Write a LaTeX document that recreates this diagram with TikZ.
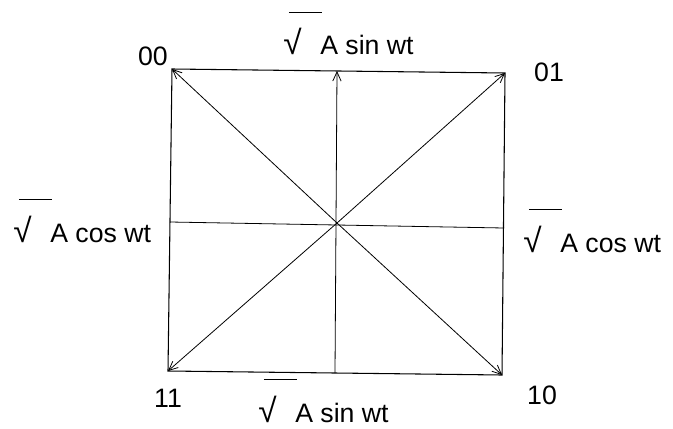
\documentclass[tikz,border=0pt]{standalone}
\usepackage{fontspec}
\setmainfont{Liberation Sans}
\usetikzlibrary{positioning, arrows.meta}

% root sign with a raised bar, set left of the text
\newcommand{\rootlabel}[1]{\llap{\raisebox{31.5pt}{\rule{25pt}{0.7pt}}\hspace{-1.5pt}}%
  \llap{{\fontsize{25}{25}\selectfont √}\hspace{14pt}}#1}

\begin{document}
\begin{tikzpicture}[x=0.75pt, y=-0.75pt,
    corner/.style={font=\fontsize{20}{24}\selectfont, inner sep=0pt},
    sidelabel/.style={font=\fontsize{20}{24}\selectfont, inner sep=0pt, anchor=base west},
    vec/.style={-{Straight Barb[length=2.4mm, width=2.2mm]}, semithick},
    frame/.style={thick}
  ]
  \useasboundingbox (0,0) rectangle (673,428);

  \coordinate (c)  at (337,223);
  \coordinate (tl) at (172,69);
  \coordinate (tr) at (505,73);
  \coordinate (br) at (502,375);
  \coordinate (bl) at (168,371);
  \coordinate (tm) at (337,71);
  \coordinate (bm) at (335,373);
  \coordinate (lm) at (170,222);
  \coordinate (rm) at (504,228);

  \draw[frame] (tl) -- (tr) -- (br) -- (bl) -- cycle;
  \draw[semithick] (lm) -- (rm);
  \draw[vec] (bm) -- (tm);

  \draw[vec] (c) -- (tl);
  \draw[vec] (c) -- (tr);
  \draw[vec] (c) -- (br);
  \draw[vec] (c) -- (bl);

  \node[corner] (n00) at (153,56)  {00};
  \node[corner] (n01) at (549,72)  {01};
  \node[corner] (n11) at (168,398) {11};
  \node[corner] (n10) at (542,395) {10};

  \node[sidelabel] (top)   at (320,55)  {\rootlabel{A sin wt}};
  \node[sidelabel] (left)  at (50,242)  {\rootlabel{A cos wt}};
  \node[sidelabel] (right) at (560,252) {\rootlabel{A cos wt}};
  \node[sidelabel] (bot)   at (295,422) {\rootlabel{A sin wt}};
\end{tikzpicture}
\end{document}
